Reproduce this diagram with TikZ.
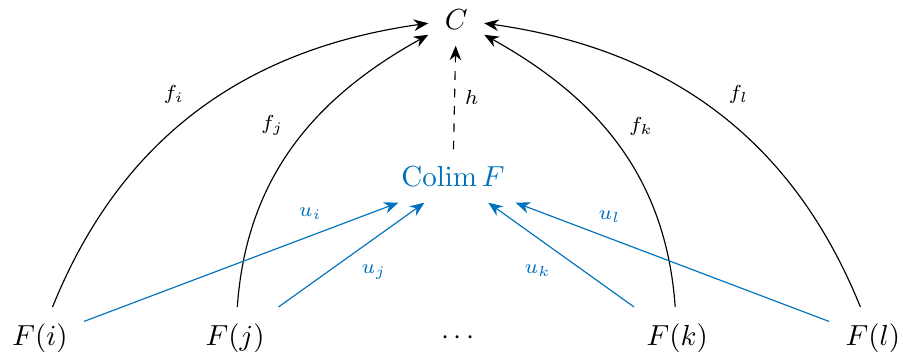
\documentclass[tikz,border=0pt]{standalone}
\usepackage{amsmath}
\usetikzlibrary{arrows.meta}
\definecolor{colimblue}{RGB}{0,114,189}

\begin{document}
\begin{tikzpicture}[
    obj/.style={inner sep=5.5pt},
    map/.style={-{Stealth[length=5pt,width=4pt]},black,thin},
    cocone/.style={-{Stealth[length=5pt,width=4pt]},colimblue,thin},
    lbl/.style={font=\scriptsize}]
  \useasboundingbox (0,0) rectangle (10.945,4.364);
    \node[obj] (C) at (5.53,4.13) {$C$};
    \node[obj,text=colimblue] (colim) at (5.49,2.23) {$\operatorname{Colim} F$};
    \node[obj] (Fi) at (0.485,0.267) {$F(i)$};
    \node[obj] (Fj) at (2.85,0.267) {$F(j)$};
    \node[obj] (dots) at (5.58,0.267) {$\cdots$};
    \node[obj] (Fk) at (8.21,0.267) {$F(k)$};
    \node[obj] (Fl) at (10.58,0.267) {$F(l)$};

    \path[map]
    (Fi) edge [out=68, in=188] node[lbl,pos=0.49,above left] {$f_i$} (C)
    (Fj) edge [out=86, in=209] node[lbl,pos=0.5,above left] {$f_j$} (C)
    (Fk) edge [out=94, in=-29] node[lbl,pos=0.5,above right] {$f_k$} (C)
    (Fl) edge [out=112, in=-8] node[lbl,pos=0.49,above right] {$f_l$} (C);

    \path[map,dashed] (colim) edge node[lbl,midway,right] {$h$} (C);

    \path[cocone]
    (Fi) edge node[lbl,pos=0.72,above=2pt] {$u_i$} (colim.-154)
    (Fj) edge node[lbl,pos=0.5,below right] {$u_j$} (colim.-137)
    (Fk) edge node[lbl,pos=0.5,below left] {$u_k$} (colim.-37)
    (Fl) edge node[lbl,pos=0.7,above=2pt] {$u_l$} (colim.-23);
\end{tikzpicture}
\end{document}
